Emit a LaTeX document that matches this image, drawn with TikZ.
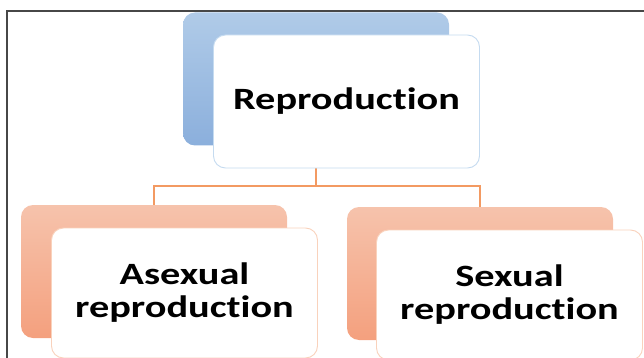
\documentclass[tikz,border=0pt]{standalone}
\usepackage{fontspec}
\setmainfont{Carlito}[FakeStretch=1.3,Ligatures=NoCommon]
\usetikzlibrary{backgrounds}

\definecolor{frameline}{HTML}{474747}
\definecolor{bluetop}{HTML}{B0CBE8}
\definecolor{bluebot}{HTML}{8BAFDC}
\definecolor{blueedge}{HTML}{C5DBF0}
\definecolor{orangetop}{HTML}{F6C3AC}
\definecolor{orangebot}{HTML}{F4A07E}
\definecolor{orangeedge}{HTML}{F9D2BC}
\definecolor{linkline}{HTML}{F39A62}

\begin{document}
\begin{tikzpicture}[x=1pt,y=-1pt,
                    back box/.style={rectangle,rounded corners=12pt,minimum width=266pt,minimum height=133pt,draw=none},
                    front box/.style={rectangle,rounded corners=12pt,minimum width=266pt,minimum height=130pt,fill=white,draw,line width=0.9pt,align=center,font=\fontsize{31}{33}\selectfont\bfseries},
                    link/.style={draw=linkline,line width=1.6pt}]

       \useasboundingbox (0,0) rectangle (644,358);
       \clip (0,0) rectangle (644,358);

       % frame
       \draw[frameline,line width=2pt] (7,360) -- (7,11) -- (646,11);

       \node[back box,top color=bluetop,bottom color=bluebot] (topback) at (316,79) {};
       \node[front box,draw=blueedge,minimum height=133pt] (top) at (346.5,101.5) {Reproduction};

       \node[back box,top color=orangetop,bottom color=orangebot] (leftback) at (154,271.5) {};
       \node[front box,draw=orangeedge] (left) at (184.5,293) {Asexual\\reproduction};

       \node[back box,top color=orangetop,bottom color=orangebot] (rightback) at (480,273.5) {};
       \node[front box,draw=orangeedge] (right) at (509.5,295) {Sexual\\reproduction};

       \coordinate (split) at (316,186);
       \begin{scope}[on background layer]
         \path[link] (topback.center) -- (split) -| (leftback.north);
         \path[link] (split) -| (rightback.north);
       \end{scope}

\end{tikzpicture}
\end{document}
